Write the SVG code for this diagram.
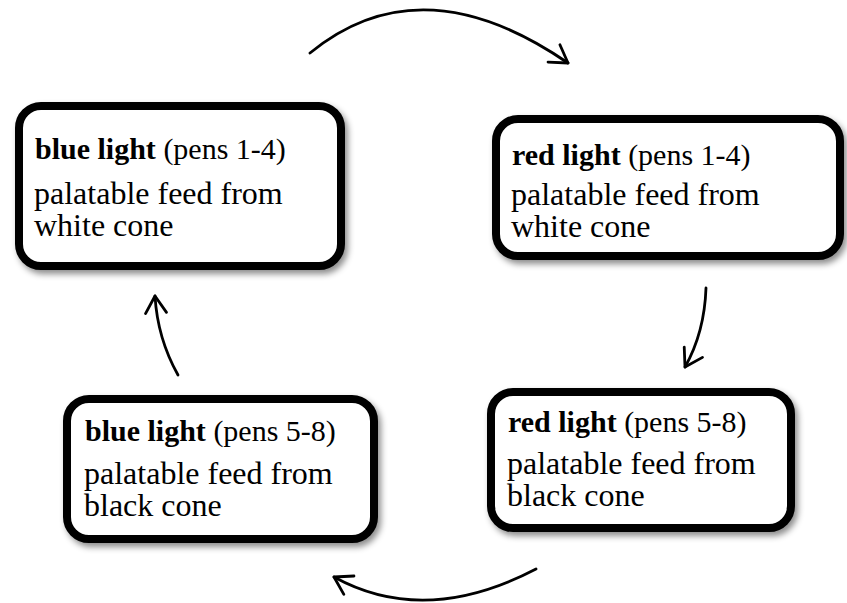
<svg xmlns="http://www.w3.org/2000/svg" width="847" height="603" viewBox="0 0 847 603">
<defs>
<filter id="sh" x="-10%" y="-10%" width="125%" height="130%">
<feDropShadow dx="3" dy="4" stdDeviation="3" flood-color="#000" flood-opacity="0.45"/>
</filter>
<marker id="ah" markerUnits="userSpaceOnUse" markerWidth="30" markerHeight="30" viewBox="-22 -15 26 30" refX="0" refY="0" orient="auto">
<path d="M-17,-10.5 L0,0 L-17,10.5" fill="none" stroke="#000" stroke-width="2.8" stroke-linecap="round" stroke-linejoin="round"/>
</marker>
</defs>
<style>
.box{fill:#fff;stroke:#000;stroke-width:8;filter:url(#sh)}
.t{font-family:"Liberation Serif","Times New Roman",serif;fill:#000}
.h{font-size:30px}
.b{font-weight:bold}
.p{font-size:32px}
.arr{fill:none;stroke:#000;stroke-width:2.8;stroke-linecap:round;marker-end:url(#ah)}
</style>
<g id="connectors">
<path class="arr" d="M310,53 Q421,-38 568,63"/>
<path class="arr" d="M706,288 Q704.5,332.5 685,367"/>
<path class="arr" d="M536,569 Q425,627 334,577"/>
<path class="arr" d="M178,375 Q157.5,338.5 155,296"/>
</g>
<g id="blue14">
<rect class="box" x="19" y="106" width="322" height="160" rx="22"/>
<text class="t h" x="35" y="159"><tspan class="b">blue light</tspan> (pens 1-4)</text>
<text class="t p" x="34" y="204">palatable feed from</text>
<text class="t p" x="34" y="236">white cone</text>
</g>
<g id="red14">
<rect class="box" x="496" y="119" width="344" height="137" rx="22"/>
<text class="t h" x="512" y="165"><tspan class="b">red light</tspan> (pens 1-4)</text>
<text class="t p" x="511" y="205">palatable feed from</text>
<text class="t p" x="511" y="237">white cone</text>
</g>
<g id="blue58">
<rect class="box" x="67" y="399" width="307" height="140" rx="22"/>
<text class="t h" x="85" y="441"><tspan class="b">blue light</tspan> (pens 5-8)</text>
<text class="t p" x="84" y="484">palatable feed from</text>
<text class="t p" x="84" y="516">black cone</text>
</g>
<g id="red58">
<rect class="box" x="491" y="392" width="300" height="136" rx="22"/>
<text class="t h" x="508" y="432"><tspan class="b">red light</tspan> (pens 5-8)</text>
<text class="t p" x="507" y="474">palatable feed from</text>
<text class="t p" x="507" y="506">black cone</text>
</g>
</svg>
